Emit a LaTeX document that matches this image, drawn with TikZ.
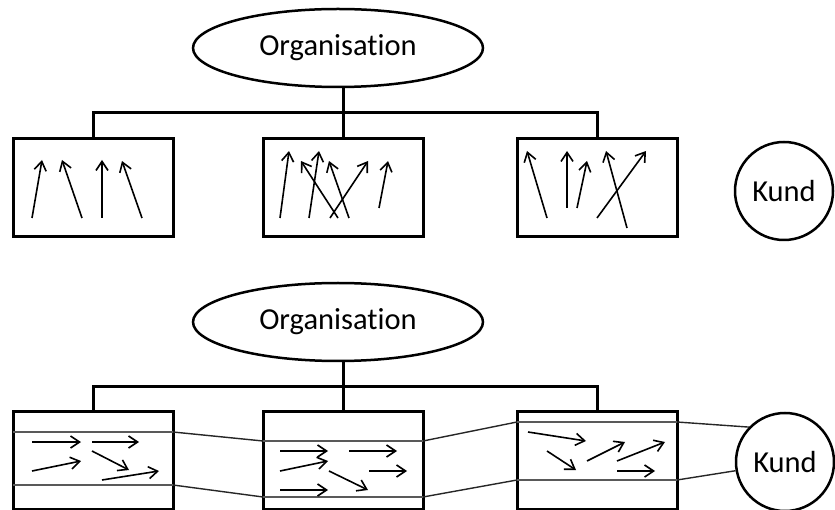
\documentclass[tikz,border=0pt]{standalone}
\usepackage{fontspec}
\setmainfont{Carlito}[Ligatures={NoCommon}]
\usetikzlibrary{shapes.geometric,arrows.meta}
\tikzset{
  orgnode/.style={ellipse,draw,line width=2.5pt,minimum width=290pt,minimum height=78pt,inner sep=0pt,font=\fontsize{30.5}{35}\selectfont},
  kundnode/.style={circle,draw,line width=2.5pt,minimum size=98pt,inner sep=0pt,font=\fontsize{30.5}{35}\selectfont},
  unitbox/.style={rectangle,draw,line width=3pt,minimum width=160pt,minimum height=98pt,inner sep=0pt},
  tree/.style={line width=3pt},
  lane/.style={line width=1.3pt,draw=black!65},
  link/.style={line width=1.4pt,draw=black!85},
  arr/.style={line width=1.6pt,-{Straight Barb[length=9pt,width=12pt,line width=1.6pt]}}
}
\begin{document}
\begin{tikzpicture}[x=1pt,y=-1pt]
\useasboundingbox (0,0) rectangle (835,510);

% ---------- upper part: departments working on their own ----------
\node[orgnode] (org1) at (338,48) {Organisation};
\node[unitbox] (ua) at (93,188) {};
\node[unitbox] (ub) at (343,188) {};
\node[unitbox] (uc) at (597,188) {};
\node[kundnode] (kund1) at (784,191) {Kund};
\coordinate (bus1) at (343,113);

\draw[tree] (bus1) -- (bus1 |- org1.south);
\draw[tree] (ua.north) |- (bus1) -| (uc.north);
\draw[tree] (bus1) -- (ub.north);

% arrows pointing upwards
\draw[arr] (32,218) -- (42,160);
\draw[arr] (82,218) -- (62,160);
\draw[arr] (102,218) -- (102,160);
\draw[arr] (142,218) -- (122,161);

\draw[arr] (280,218) -- (289,151);
\draw[arr] (309,218) -- (319,151);
\draw[arr] (338,218) -- (301,161);
\draw[arr] (349,218) -- (329,161);
\draw[arr] (330,218) -- (368,161);
\draw[arr] (379,208) -- (388,161);

\draw[arr] (547,218) -- (527,151);
\draw[arr] (567,208) -- (567,151);
\draw[arr] (577,208) -- (587,161);
\draw[arr] (627,228) -- (606,151);
\draw[arr] (597,218) -- (646,151);

% ---------- lower part: a process running towards the customer ----------
\node[orgnode] (org2) at (338,322) {Organisation};
\node[unitbox] (la) at (93,460.5) {};
\node[unitbox] (lb) at (343,460.5) {};
\node[unitbox] (lc) at (597,460.5) {};
\node[kundnode] (kund2) at (785,462) {Kund};
\coordinate (bus2) at (343,386);

\draw[tree] (bus2) -- (bus2 |- org2.south);
\draw[tree] (la.north) |- (bus2) -| (lc.north);
\draw[tree] (bus2) -- (lb.north);

% lane borders inside the boxes
\coordinate (la1) at (13,432);  \coordinate (la2) at (173,432);
\coordinate (la3) at (13,485);  \coordinate (la4) at (173,485);
\coordinate (lb1) at (263,441); \coordinate (lb2) at (423,441);
\coordinate (lb3) at (263,497); \coordinate (lb4) at (423,497);
\coordinate (lc1) at (517,422); \coordinate (lc2) at (677,422);
\coordinate (lc3) at (517,480); \coordinate (lc4) at (677,480);

\draw[lane] (la1) -- (la2);
\draw[lane] (la3) -- (la4);
\draw[lane] (lb1) -- (lb2);
\draw[lane] (lb3) -- (lb4);
\draw[lane] (lc1) -- (lc2);
\draw[lane] (lc3) -- (lc4);

% lane borders between the boxes
\draw[link] (la2) -- (lb1);
\draw[link] (la4) -- (lb3);
\draw[link] (lb2) -- (lc1);
\draw[link] (lb4) -- (lc3);
\draw[link] (lc2) -- (kund2.136);
\draw[link] (lc4) -- (kund2.190);

% arrows pointing along the lane
\draw[arr] (32,442) -- (81,442);
\draw[arr] (92,442) -- (139,442);
\draw[arr] (32,471) -- (81,461);
\draw[arr] (92,451) -- (129,470);
\draw[arr] (102,480) -- (159,471);

\draw[arr] (280,451) -- (328,451);
\draw[arr] (280,471) -- (328,461);
\draw[arr] (349,451) -- (397,451);
\draw[arr] (369,471) -- (407,471);
\draw[arr] (329,471) -- (368,490);
\draw[arr] (280,490) -- (328,490);

\draw[arr] (528,432) -- (586,441);
\draw[arr] (547,451) -- (576,470);
\draw[arr] (587,461) -- (625,442);
\draw[arr] (617,461) -- (665,442);
\draw[arr] (617,471) -- (655,471);
\end{tikzpicture}
\end{document}
